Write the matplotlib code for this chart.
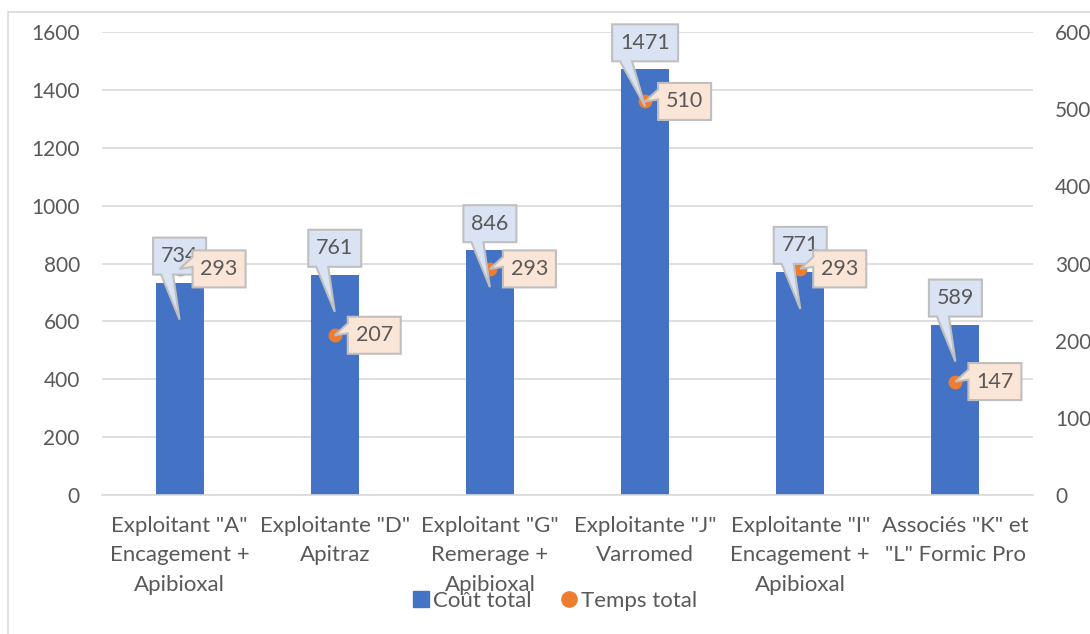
import matplotlib
matplotlib.use("Agg")
import matplotlib.pyplot as plt
from matplotlib import transforms
from matplotlib.patches import Polygon, Rectangle
from matplotlib.lines import Line2D

categories = [
    'Exploitant "A"\nEncagement +\nApibioxal',
    'Exploitante "D"\nApitraz',
    'Exploitant "G"\nRemerage +\nApibioxal',
    'Exploitante "J"\nVarromed',
    'Exploitante "I"\nEncagement +\nApibioxal',
    'Associés "K" et\n"L" Formic Pro',
]
cout_total = [734, 761, 846, 1471, 771, 589]
temps_total = [293, 207, 293, 510, 293, 147]

BLUE = "#4472C4"
ORANGE = "#ED7D31"
TEXT = "#595959"
GRID = "#D9D9D9"

plt.rcParams["font.family"] = ["Lato", "DejaVu Sans"]
plt.rcParams["font.size"] = 15

fig = plt.figure(figsize=(10.9, 6.34), dpi=100)
ax = fig.add_axes([102 / 1090, 1 - 495 / 634, 931 / 1090, 463 / 634])
ax2 = ax.twinx()

# outer chart frame
fig.patches.append(Rectangle((8 / 1090, -0.1), 1.2, 1 - 12 / 634 + 0.1,
                             transform=fig.transFigure, fill=False,
                             edgecolor=GRID, linewidth=1.2, zorder=0))

x = list(range(len(categories)))
ax.bar(x, cout_total, width=0.31, color=BLUE, zorder=2)
ax2.plot(x, temps_total, linestyle="none", marker="o", markersize=9,
         color=ORANGE, zorder=3)

ax.set_xlim(-0.5, len(categories) - 0.5)
ax.set_ylim(0, 1600)
ax.set_yticks(range(0, 1601, 200))
ax2.set_ylim(0, 600)
ax2.set_yticks(range(0, 601, 100))

ax.set_xticks(x)
ax.set_xticklabels(categories, linespacing=1.6, color=TEXT, fontsize=16)
ax.grid(axis="y", color=GRID, linewidth=1.2, zorder=0)
ax.set_axisbelow(True)
for a in (ax, ax2):
    for s in a.spines.values():
        s.set_visible(False)
    a.tick_params(length=0, colors=TEXT)
ax.tick_params(axis="y", labelsize=15, pad=16)
ax2.tick_params(axis="y", labelsize=15, pad=16)
ax.tick_params(axis="x", pad=15)
ax.spines["bottom"].set_visible(True)
ax.spines["bottom"].set_color(GRID)
ax.spines["bottom"].set_linewidth(1.2)

ax2.set_zorder(ax.get_zorder() + 1)
ax2.patch.set_visible(False)

PX = 1 / 100.0  # one pixel in inches
LABEL_SIZE = 15.5


def anchored(a, xv, yv):
    return fig.dpi_scale_trans + transforms.ScaledTranslation(xv, yv, a.transData)


# callouts for the bar values
for xi, v in zip(x, cout_total):
    txt = str(v)
    w = 14 + 13 * len(txt)
    left, right = -w / 2, w / 2
    bottom, top = 8, 45
    tip = (0, -37)
    verts = [(left, bottom), (left + 8, bottom), tip, (left + 20, bottom),
             (right, bottom), (right, top), (left, top)]
    verts = [(px * PX, py * PX) for px, py in verts]
    ax2.add_patch(Polygon(verts, closed=True, transform=anchored(ax, xi, v),
                          facecolor="#DAE3F3", edgecolor="#BFBFBF",
                          linewidth=1.5, zorder=5, clip_on=False))
    ax2.annotate(txt, xy=(xi, v), xycoords=ax.transData,
                 xytext=(0, (bottom + top) / 2 * 0.72), textcoords="offset points",
                 ha="center", va="center", color=TEXT, fontsize=LABEL_SIZE, zorder=6)

# callouts for the time values
for xi, t in zip(x, temps_total):
    txt = str(t)
    w = 14 + 13 * len(txt)
    left, right = 13, 13 + w
    bottom, top = -18.5, 18.5
    verts = [(left, bottom), (right, bottom), (right, top), (left, top),
             (left, 12), (0, 0), (left, 2)]
    verts = [(px * PX, py * PX) for px, py in verts]
    ax2.add_patch(Polygon(verts, closed=True, transform=anchored(ax2, xi, t),
                          facecolor="#FBE5D6", edgecolor="#BFBFBF",
                          linewidth=1.5, zorder=7, clip_on=False))
    ax2.annotate(txt, xy=(xi, t), xycoords="data",
                 xytext=((left + right) / 2 * 0.72, 0), textcoords="offset points",
                 ha="center", va="center", color=TEXT, fontsize=LABEL_SIZE, zorder=8)

handles = [
    Line2D([], [], linestyle="none", marker="s", markersize=11, color=BLUE),
    Line2D([], [], linestyle="none", marker="o", markersize=11, color=ORANGE),
]
fig.legend(handles, ["Coût total", "Temps total"], loc="center",
           bbox_to_anchor=(554 / 1090, 1 - 601 / 634), ncol=2, frameon=False,
           handletextpad=0.1, columnspacing=1.2, handlelength=0.9,
           labelcolor=TEXT, fontsize=16)

fig.savefig("out.png", dpi=100)
